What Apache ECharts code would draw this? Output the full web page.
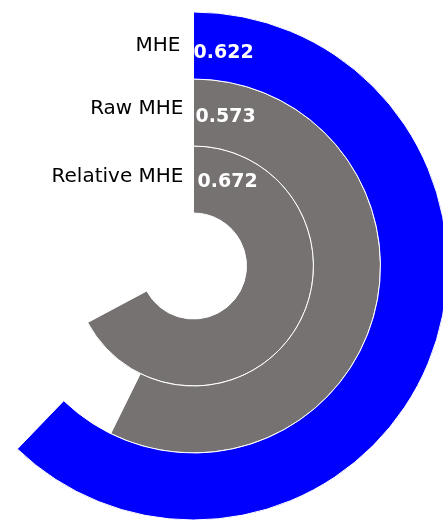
<!DOCTYPE html>
<html><head><meta charset="utf-8">
<script src="https://cdn.jsdelivr.net/npm/echarts@6/dist/echarts.min.js"></script>
<style>html,body{margin:0;padding:0;background:#fff}#c{width:443px;height:521px}</style>
</head><body><div id="c"></div>
<script>
const categories = ['Relative MHE', 'Raw MHE', 'MHE'];
const values = [0.672, 0.573, 0.622];
const colors = ['#767271', '#767271', '#0000ff'];
const labelPadding = [[0, 0, 5, 0], [0, 0, 7, 0], [0, 3, 0, 0]];
const valueOffsets = [[-1, 3], [-3, 5], [-5, 8]];

const rich = {};
categories.forEach((c, i) => {
  rich['r' + i] = { padding: labelPadding[i], fontSize: 20, fontFamily: 'DejaVu Sans', color: '#000' };
});

const chart = echarts.init(document.getElementById('c'), null, {renderer: 'canvas'});
chart.setOption({
  animation: false,
  polar: { center: [193.5, 266], radius: [53, 254] },
  angleAxis: {
    type: 'value', min: 0, max: 1, startAngle: 90, clockwise: true,
    show: false
  },
  radiusAxis: {
    type: 'category',
    data: categories,
    axisLine: { show: false }, axisTick: { show: false }, splitLine: { show: false },
    axisLabel: {
      show: true, interval: 0, margin: 10, color: '#000', fontSize: 20, fontFamily: 'DejaVu Sans',
      formatter: (v, i) => '{r' + i + '|' + v + '}', rich: rich
    }
  },
  series: [{
    type: 'bar', coordinateSystem: 'polar', barCategoryGap: '0%',
    data: values.map((v, i) => ({ value: v, itemStyle: { color: colors[i] }, label: { offset: valueOffsets[i] } })),
    itemStyle: { borderColor: '#fff', borderWidth: 1 },
    label: {
      show: true, position: 'insideStart', color: '#fff', fontWeight: 'bold',
      fontSize: 19, fontFamily: 'DejaVu Sans', formatter: p => p.value.toFixed(3)
    }
  }]
});
</script></body></html>
